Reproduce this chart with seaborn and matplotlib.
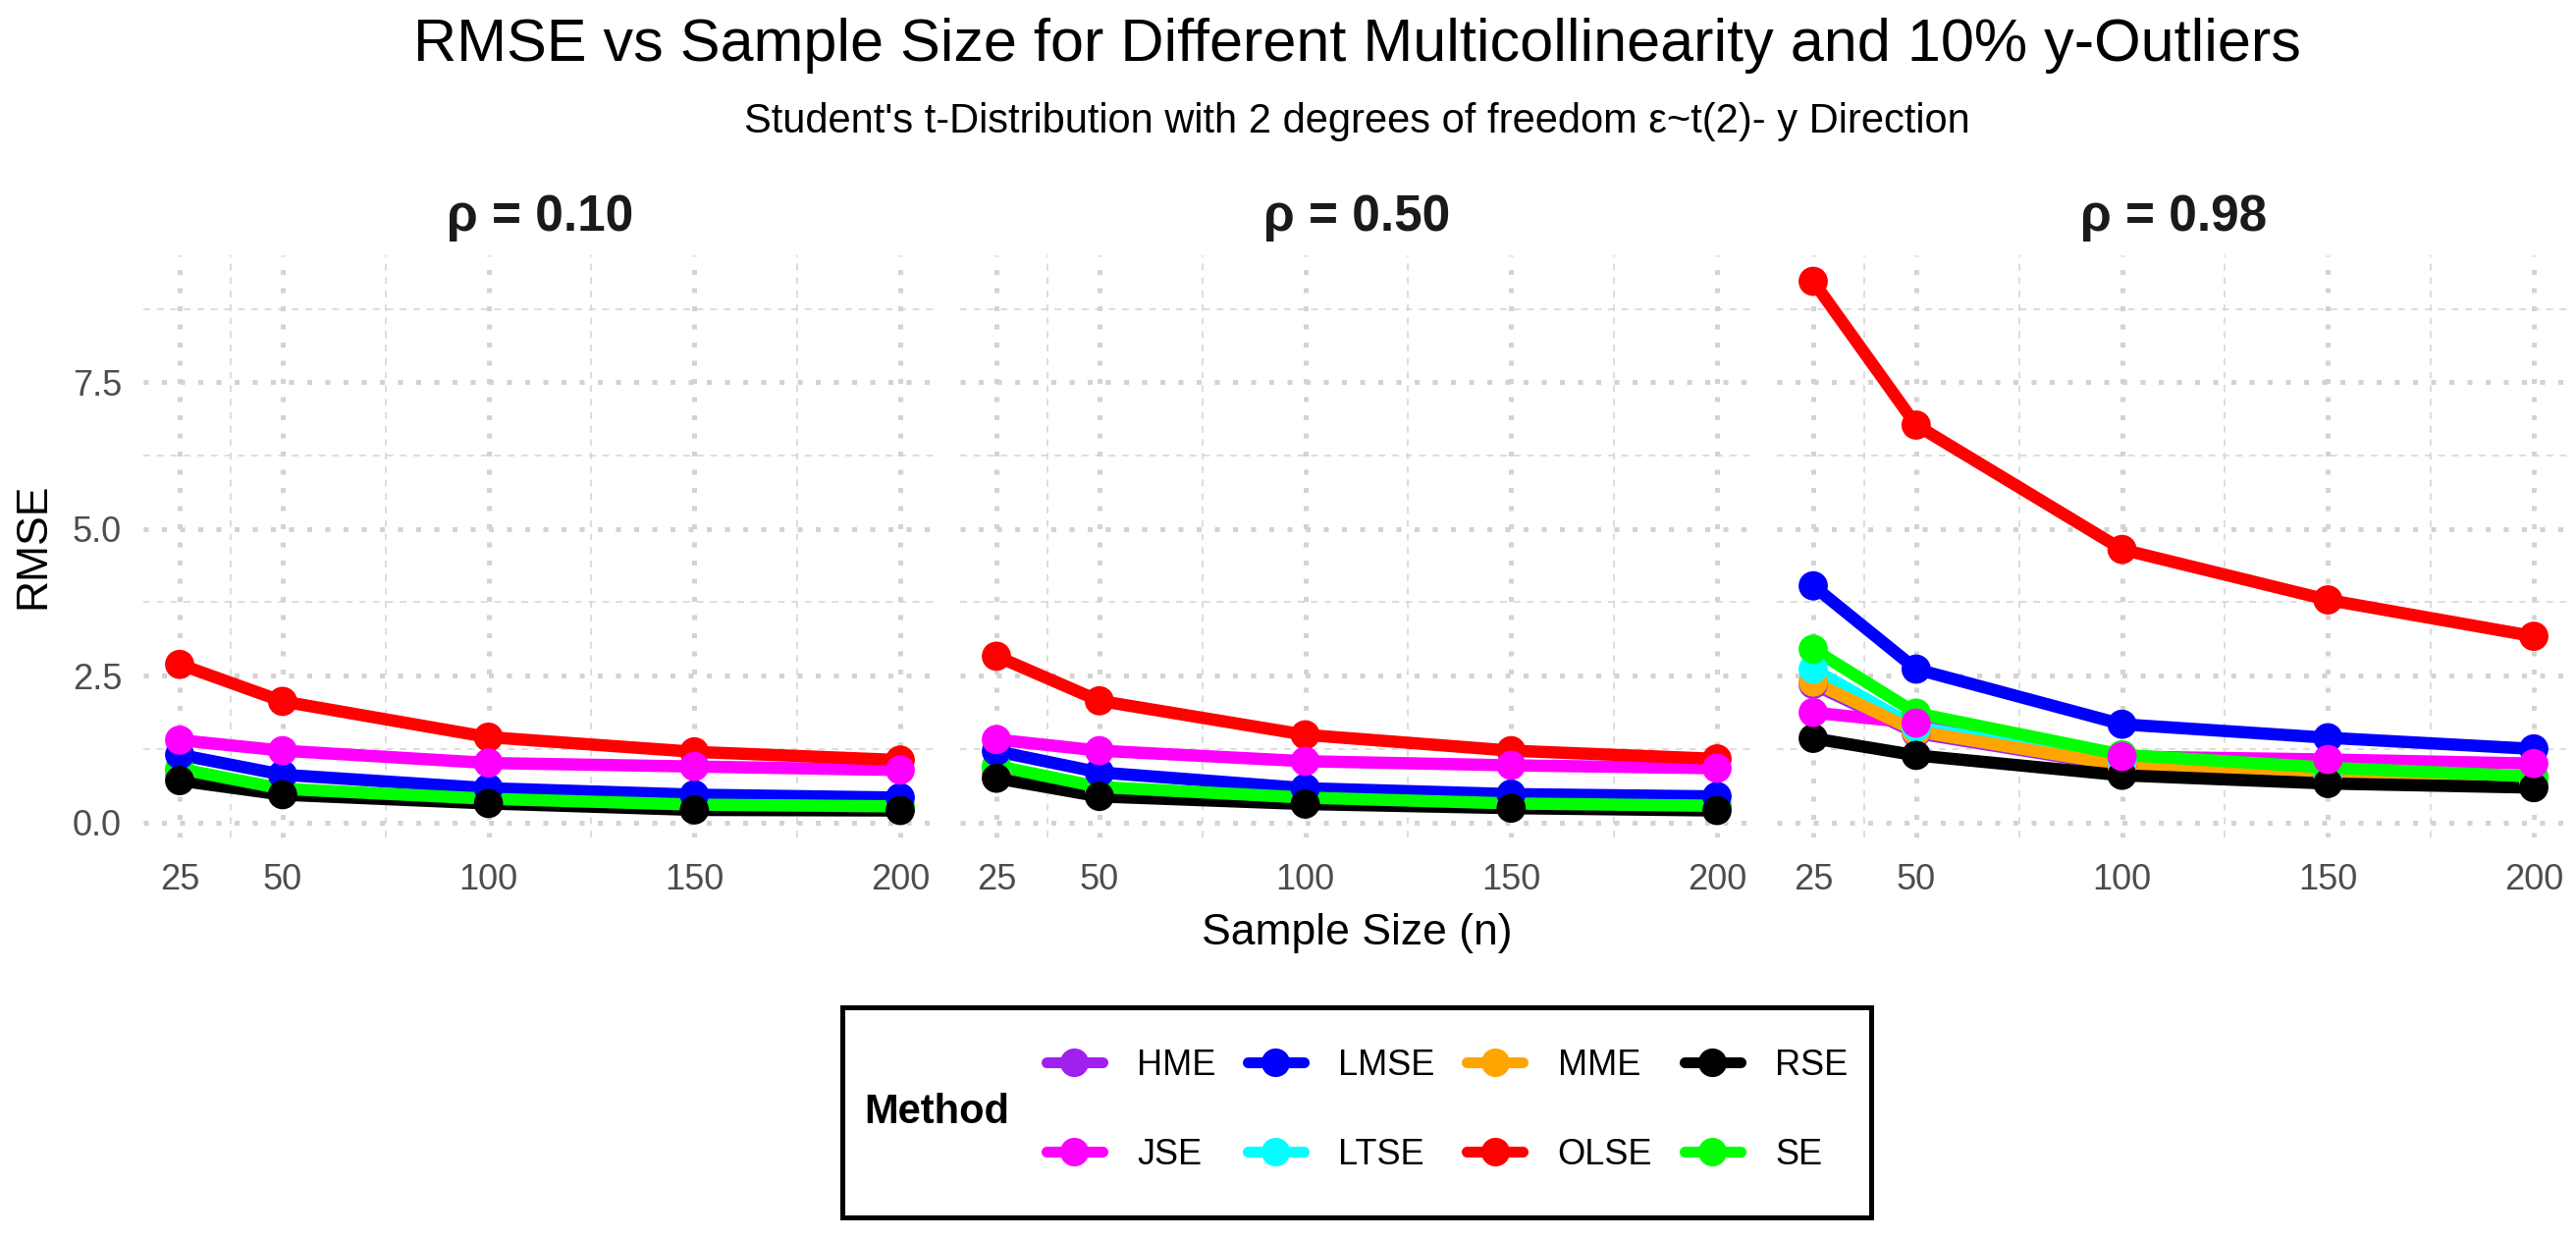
import numpy as np
import pandas as pd
import matplotlib
matplotlib.use("Agg")
import matplotlib.pyplot as plt
from matplotlib.lines import Line2D
from matplotlib.patches import Rectangle
from matplotlib.ticker import FixedLocator
import seaborn as sns

# data
sample_sizes = [25, 50, 100, 150, 200]
methods = ["HME", "JSE", "LMSE", "LTSE", "MME", "OLSE", "RSE", "SE"]
rho_labels = ["ρ = 0.10", "ρ = 0.50", "ρ = 0.98"]

rmse_rho010 = {
    "HME":  [0.85, 0.54, 0.37, 0.28, 0.25],
    "JSE":  [1.40, 1.22, 1.01, 0.95, 0.89],
    "LMSE": [1.15, 0.81, 0.58, 0.47, 0.42],
    "LTSE": [0.88, 0.55, 0.38, 0.29, 0.26],
    "MME":  [0.84, 0.53, 0.36, 0.28, 0.25],
    "OLSE": [2.69, 2.06, 1.45, 1.20, 1.06],
    "RSE":  [0.71, 0.47, 0.32, 0.21, 0.20],
    "SE":   [0.91, 0.57, 0.40, 0.30, 0.27],
}
rmse_rho050 = {
    "HME":  [0.88, 0.56, 0.39, 0.30, 0.26],
    "JSE":  [1.41, 1.22, 1.04, 0.97, 0.92],
    "LMSE": [1.21, 0.85, 0.58, 0.48, 0.44],
    "LTSE": [0.92, 0.58, 0.40, 0.31, 0.27],
    "MME":  [0.87, 0.55, 0.38, 0.30, 0.26],
    "OLSE": [2.83, 2.07, 1.49, 1.22, 1.08],
    "RSE":  [0.75, 0.44, 0.31, 0.24, 0.20],
    "SE":   [0.96, 0.60, 0.42, 0.32, 0.28],
}
rmse_rho098 = {
    "HME":  [2.35, 1.52, 0.95, 0.79, 0.69],
    "JSE":  [1.87, 1.69, 1.12, 1.07, 1.00],
    "LMSE": [4.03, 2.61, 1.67, 1.44, 1.25],
    "LTSE": [2.61, 1.62, 1.05, 0.86, 0.74],
    "MME":  [2.39, 1.55, 0.97, 0.81, 0.70],
    "OLSE": [9.22, 6.77, 4.65, 3.79, 3.17],
    "RSE":  [1.43, 1.14, 0.80, 0.66, 0.59],
    "SE":   [2.95, 1.86, 1.15, 0.93, 0.78],
}

colors = {
    "HME": "#A020F0", "JSE": "#FF00FF", "LMSE": "#0000FF", "LTSE": "#00FFFF",
    "MME": "#FFA500", "OLSE": "#FF0000", "RSE": "#000000", "SE": "#00FF00",
}
# stacking of the points (bottom -> top)
point_order = ["HME", "MME", "LTSE", "SE", "LMSE", "RSE", "OLSE", "JSE"]

rows = []
for rho, table in zip(rho_labels, [rmse_rho010, rmse_rho050, rmse_rho098]):
    for m in methods:
        for n, v in zip(sample_sizes, table[m]):
            rows.append({"rho": rho, "n": n, "Method": m, "RMSE": v})
df = pd.DataFrame(rows)

sns.set_theme(style="white")
plt.rcParams["font.family"] = ["Liberation Sans", "DejaVu Sans"]

W, H = 2624, 1262
fig = plt.figure(figsize=(W / 100, H / 100), dpi=100)

# ggplot-like 5% expansion
x_lo, x_hi = min(sample_sizes), max(sample_sizes)
xr = x_hi - x_lo
y_lo, y_hi = df["RMSE"].min(), df["RMSE"].max()
yr = y_hi - y_lo

panel_left = [146.3, 978.3, 1810.3]
panel_w = 807.4
panel_top, panel_bot = 259.6, 852.5

for i, rho in enumerate(rho_labels):
    ax = fig.add_axes([panel_left[i] / W, 1 - panel_bot / H,
                       panel_w / W, (panel_bot - panel_top) / H])
    sub = df[df["rho"] == rho]
    sns.lineplot(data=sub, x="n", y="RMSE", hue="Method", hue_order=methods,
                 palette=colors, linewidth=9, errorbar=None, legend=False,
                 ax=ax, zorder=3)
    pts = sub.copy()
    pts["order"] = pts["Method"].map({m: k for k, m in enumerate(point_order)})
    pts = pts.sort_values(["order", "n"])
    sns.scatterplot(data=pts, x="n", y="RMSE", hue="Method", palette=colors,
                    s=460, linewidth=0, legend=False, ax=ax, zorder=4)

    ax.set_xlim(x_lo - 0.05 * xr, x_hi + 0.05 * xr)
    ax.set_ylim(y_lo - 0.05 * yr, y_hi + 0.05 * yr)
    ax.set_xticks(sample_sizes)
    ax.set_xticklabels([str(n) for n in sample_sizes])
    ax.set_yticks([0, 2.5, 5, 7.5])
    ax.set_yticklabels(["0.0", "2.5", "5.0", "7.5"])
    ax.xaxis.set_minor_locator(FixedLocator([37.5, 75, 125, 175]))
    ax.yaxis.set_minor_locator(FixedLocator([1.25, 3.75, 6.25, 8.75]))
    ax.grid(True, which="major", color="#D3D3D3", linewidth=3.6,
            linestyle=(0, (1, 2.7)))
    ax.grid(True, which="minor", color="#D3D3D3", linewidth=1.1,
            linestyle=(0, (4.5, 4.5)))
    ax.set_axisbelow(True)
    for s in ax.spines.values():
        s.set_visible(False)
    ax.tick_params(which="both", length=0, labelsize=26, labelcolor="#4D4D4D")
    ax.tick_params(axis="x", pad=19)
    ax.tick_params(axis="y", pad=16)
    if i > 0:
        ax.tick_params(axis="y", labelleft=False)
    ax.set_xlabel("")
    ax.set_ylabel("")
    ax.set_title(rho, fontsize=37, fontweight="bold", color="#1A1A1A", pad=18)

cx = (panel_left[0] + panel_left[2] + panel_w) / 2 / W
fig.text(cx, 1 - 62 / H, "RMSE vs Sample Size for Different Multicollinearity and 10% y-Outliers",
         ha="center", va="baseline", fontsize=44, color="black")
fig.text(cx, 1 - 135 / H,
         "Student's t-Distribution with 2 degrees of freedom ε~t(2)- y Direction",
         ha="center", va="baseline", fontsize=30, color="black")
fig.text(34 / W, 1 - 556 / H, "RMSE", rotation=90, ha="center", va="center",
         fontsize=32, color="black")
fig.text(cx, 1 - 962 / H, "Sample Size (n)", ha="center", va="baseline",
         fontsize=32, color="black")

# legend with title on the left and a black frame
box_l, box_r, box_t, box_b = 858, 1906, 1025.7, 1240
fig.patches.append(Rectangle((box_l / W, 1 - box_b / H), (box_r - box_l) / W,
                             (box_b - box_t) / H, transform=fig.transFigure,
                             fill=False, edgecolor="black", linewidth=3.6))
fig.text(880 / W, 1 - 1133 / H, "Method", ha="left", va="center",
         fontsize=30, fontweight="bold", color="black")
handles = [Line2D([0], [0], color=colors[m], linewidth=8, marker="o",
                  markersize=21, markeredgewidth=0) for m in methods]
leg = fig.legend(handles, methods, ncol=4, loc="center left",
                 bbox_to_anchor=(1065.5 / W, 1 - 1131 / H), frameon=False,
                 fontsize=26, handlelength=1.58, handletextpad=0.98,
                 columnspacing=0.9, labelspacing=1.55, borderpad=0,
                 borderaxespad=0)
for t in leg.get_texts():
    t.set_color("black")

fig.savefig("out.png", dpi=100)
